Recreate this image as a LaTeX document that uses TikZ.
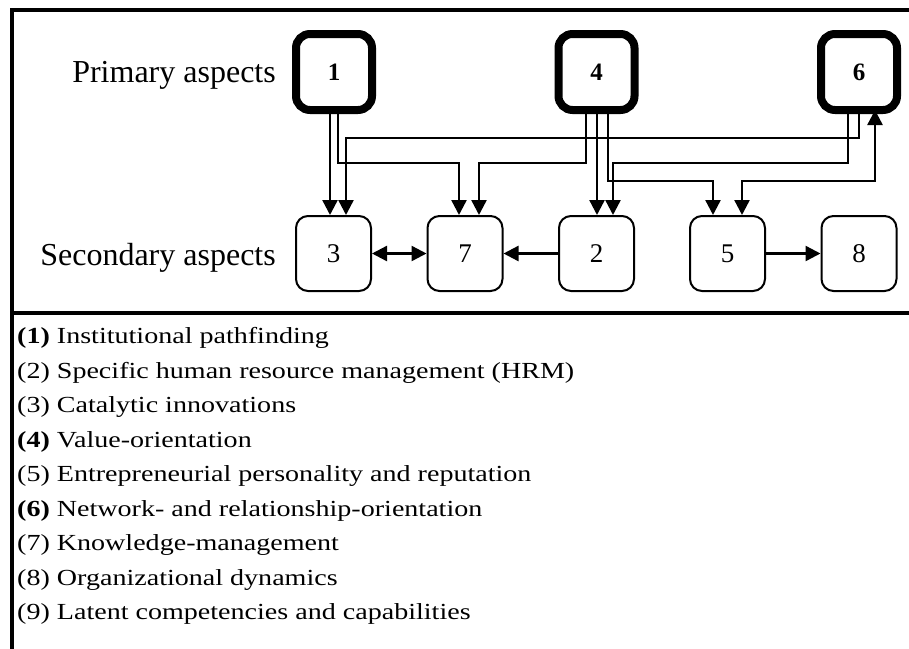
\documentclass[tikz,border=0pt]{standalone}
\usepackage{fontspec}
\setmainfont{Liberation Serif}
\newfontfamily\legendfont[FakeStretch=1.22]{Liberation Serif}
\usetikzlibrary{arrows.meta}
\begin{document}
\begin{tikzpicture}[x=1pt,y=-1pt,
  primary/.style={draw, line width=8pt, rounded corners=14pt, minimum width=76pt,
    minimum height=76pt, inner sep=0pt, font=\fontsize{25}{25}\selectfont\bfseries},
  secondary/.style={draw, line width=2pt, rounded corners=12pt, minimum width=75pt,
    minimum height=75pt, inner sep=0pt, font=\fontsize{27}{27}\selectfont},
  tip/.tip={Triangle[length=15pt,width=15pt]},
  link/.style={line width=2.4pt, miter limit=10, -tip},
  duallink/.style={link, tip-tip},
  rowlabel/.style={anchor=base east, inner sep=0pt, font=\fontsize{32}{32}\selectfont},
  legend/.style={anchor=west, inner sep=0pt, font=\legendfont\fontsize{23}{23}\selectfont},
  frame/.style={line width=3.6pt}]
\useasboundingbox (0,0) rectangle (909,648);

% outer frame and separator
\draw[frame] (915,10) -- (12,10) -- (12,655);
\draw[frame] (12,313) -- (915,313);

% row labels
\node[rowlabel] (lp) at (276,82) {Primary aspects};
\node[rowlabel] (ls) at (276,265) {Secondary aspects};

% primary aspects
\node[primary] (n1) at (334,72) {1};
\node[primary] (n4) at (596.5,72) {4};
\node[primary] (n6) at (859,72) {6};

% secondary aspects
\node[secondary] (n3) at (333.5,253.5) {3};
\node[secondary] (n7) at (465,253.5) {7};
\node[secondary] (n2) at (596.5,253.5) {2};
\node[secondary] (n5) at (727.5,253.5) {5};
\node[secondary] (n8) at (859,253.5) {8};

% horizontal routing levels
\coordinate (r1) at (0,138);
\coordinate (r2) at (0,163);
\coordinate (r3) at (0,181);

% lanes leaving the primary aspects
\coordinate (a1) at ([xshift=-4pt]n1.south);
\coordinate (b1) at ([xshift=4pt]n1.south);
\coordinate (a4) at ([xshift=-10.5pt]n4.south);
\coordinate (b4) at ([xshift=0.5pt]n4.south);
\coordinate (c4) at ([xshift=11.5pt]n4.south);
\coordinate (a6) at ([xshift=-11pt]n6.south);
\coordinate (b6) at ([xshift=0pt]n6.south);
\coordinate (c6) at ([xshift=16pt,yshift=4pt]n6.south);

% lanes entering the secondary aspects
\coordinate (t3a) at ([xshift=-3.5pt]n3.north);
\coordinate (t3b) at ([xshift=12.5pt]n3.north);
\coordinate (t7a) at ([xshift=-6pt]n7.north);
\coordinate (t7b) at ([xshift=14pt]n7.north);
\coordinate (t2a) at ([xshift=0.5pt]n2.north);
\coordinate (t2b) at ([xshift=16.5pt]n2.north);
\coordinate (t5a) at ([xshift=-14.5pt]n5.north);
\coordinate (t5b) at ([xshift=14.5pt]n5.north);

% connectors from the primary aspects
\draw[link] (a1) -- (a1 |- t3a);
\draw[link] (b1) -- (b1 |- r2) -| (t7a);
\draw[link] (a4) -- (a4 |- r2) -| (t7b);
\draw[link] (b4) -- (b4 |- t2a);
\draw[link] (c4) -- (c4 |- r3) -| (t5a);
\draw[link] (b6) -- (b6 |- r1) -| (t3b);
\draw[link] (a6) -- (a6 |- r2) -| (t2b);
\draw[duallink] (t5b) -- (t5b |- r3) -| (c6);

% connectors between the secondary aspects
\draw[duallink] (n3.east) -- (n7.west);
\draw[link] (n2.west) -- (n7.east);
\draw[link] (n5.east) -- (n8.west);

% legend
\node[legend] (l1) at (17,338) {\textbf{(1)} Institutional pathfinding};
\node[legend] (l2) at (17,372.5) {(2) Specific human resource management (HRM)};
\node[legend] (l3) at (17,407) {(3) Catalytic innovations};
\node[legend] (l4) at (17,441.5) {\textbf{(4)} Value-orientation};
\node[legend] (l5) at (17,476) {(5) Entrepreneurial personality and reputation};
\node[legend] (l6) at (17,510.5) {\textbf{(6)} Network- and relationship-orientation};
\node[legend] (l7) at (17,545) {(7) Knowledge-management};
\node[legend] (l8) at (17,579.5) {(8) Organizational dynamics};
\node[legend] (l9) at (17,614) {(9) Latent competencies and capabilities};
\end{tikzpicture}
\end{document}
